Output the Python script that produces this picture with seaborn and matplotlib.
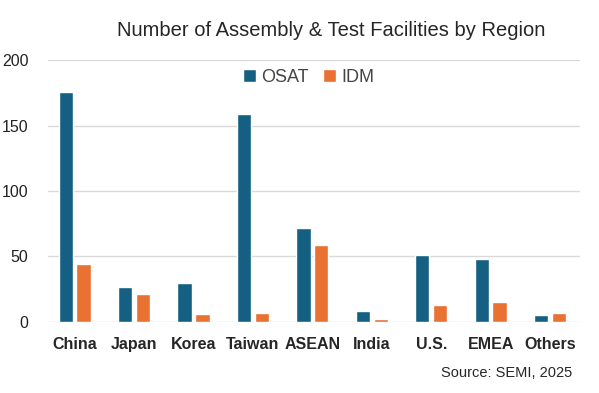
import pandas as pd
import matplotlib.pyplot as plt
import seaborn as sns

# Данные (по картинке)
regions = ["China", "Japan", "Korea", "Taiwan", "ASEAN", "India", "U.S.", "EMEA", "Others"]
osat = [176, 27, 30, 159, 72, 8, 51, 48, 5]
idm = [44, 21, 6, 7, 59, 2, 13, 15, 7]

df = pd.DataFrame({
    "region": regions * 2,
    "count": osat + idm,
    "type": ["OSAT"] * len(regions) + ["IDM"] * len(regions),
})

sns.set_theme(style="white")
plt.rcParams['font.family'] = ['Liberation Sans', 'DejaVu Sans']

fig = plt.figure(figsize=(5.99, 3.93), dpi=100)
ax = fig.add_axes([0.08, 0.181, 0.888, 0.666])

sns.barplot(data=df, x="region", y="count", hue="type",
            palette={"OSAT": "#156082", "IDM": "#E97132"},
            width=0.6, gap=0.2, ax=ax, saturation=1)

ax.set_ylim(0, 200)
ax.set_yticks([0, 50, 100, 150, 200])
ax.yaxis.grid(True, color="#d9d9d9", linewidth=1)
ax.set_axisbelow(True)
for s in ax.spines.values():
    s.set_visible(False)
ax.set_xlabel("")
ax.set_ylabel("")
ax.tick_params(axis="x", length=0, pad=11, labelsize=11.5)
ax.tick_params(axis="y", length=0, pad=14, labelsize=11.5, labelcolor="#222222")
for lbl in ax.get_xticklabels():
    lbl.set_fontweight("bold")
ax.set_xlim(-0.45, 8.5)

ax.legend(loc="center", bbox_to_anchor=(0.49, 0.935), ncol=2, frameon=False,
          fontsize=13, handlelength=0.7, handleheight=0.7, handletextpad=0.3,
          columnspacing=0.8, labelcolor="#444444")

fig.text(0.553, 0.922, "Number of Assembly & Test Facilities by Region",
         ha="center", va="center", fontsize=14.5)
fig.text(0.955, 0.05, "Source: SEMI, 2025", ha="right", va="center", fontsize=10.5)

fig.savefig("out.png", dpi=100)
